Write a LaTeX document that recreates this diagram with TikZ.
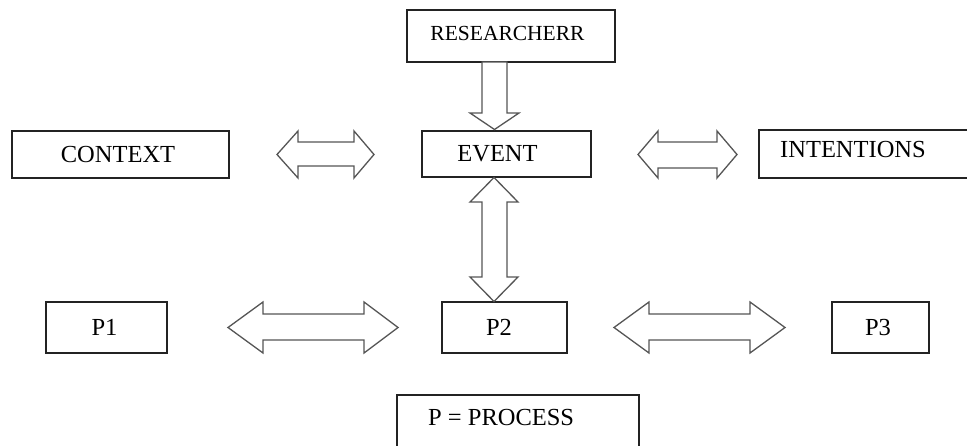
\documentclass[tikz,border=0pt]{standalone}
\usepackage{fontspec}
\setmainfont{Liberation Serif}
\definecolor{boxcol}{RGB}{35,35,35}
\definecolor{arrcol}{RGB}{85,85,85}
\begin{document}
\begin{tikzpicture}[x=1pt,y=-1pt,
  box/.style={draw=boxcol, line width=1.5pt, inner sep=0pt, fill=white},
  lbl/.style={inner sep=0pt, text=black, font=\fontsize{24.5}{28}\selectfont},
  smalllbl/.style={lbl, font=\fontsize{21.5}{25}\selectfont},
  blockarrow/.style={draw=arrcol, line width=1.3pt, fill=white, line join=miter}]
\useasboundingbox (0,0) rectangle (967,446);
\clip (0,0) rectangle (967,446);
\fill[white] (0,0) rectangle (967,446);

% boxes
\node[box, minimum width=208pt, minimum height=52pt] (researcher) at (511,36) {};
\node[box, minimum width=217pt, minimum height=47pt] (context) at (120.5,154.5) {};
\node[box, minimum width=169pt, minimum height=46pt] (event) at (506.5,154) {};
\node[box, minimum width=216pt, minimum height=48pt] (intentions) at (867,154) {};
\node[box, minimum width=121pt, minimum height=51pt] (p1) at (106.5,327.5) {};
\node[box, minimum width=125pt, minimum height=51pt] (p2) at (504.5,327.5) {};
\node[box, minimum width=97pt, minimum height=51pt] (p3) at (880.5,327.5) {};
\node[box, minimum width=242pt, minimum height=64pt] (process) at (518,427) {};

% labels
\node[smalllbl] (tresearcher) at (507.5,33.5) {RESEARCHERR};
\node[lbl] (tcontext) at (118,155) {CONTEXT};
\node[lbl] (tevent) at (497.5,154) {EVENT};
\node[lbl, anchor=west] (tintentions) at (780,150) {INTENTIONS};
\node[lbl] (tp1) at (104.5,327.5) {P1};
\node[lbl] (tp2) at (499,327.5) {P2};
\node[lbl] (tp3) at (878,327.5) {P3};
\node[lbl, anchor=west] (tprocess) at (428,418) {P = PROCESS};

% block arrows
% researcher -> event
\draw[blockarrow] (482,62) -- (507,62) -- (507,113) -- (519,113) -- (494.5,129.5)
  -- (470,113) -- (482,113) -- cycle;
% context <-> event
\draw[blockarrow] (277,154.5) -- (298,131) -- (298,142) -- (354,142) -- (354,131)
  -- (374,154.5) -- (354,178) -- (354,166) -- (298,166) -- (298,178) -- cycle;
% event <-> intentions
\draw[blockarrow] (638,154.5) -- (658,131) -- (658,142) -- (717,142) -- (717,131)
  -- (737,154.5) -- (717,178) -- (717,168) -- (658,168) -- (658,178) -- cycle;
% event <-> p2
\draw[blockarrow] (494,177.5) -- (518,202) -- (507,202) -- (507,277) -- (518,277)
  -- (494,301.5) -- (470,277) -- (482,277) -- (482,202) -- (470,202) -- cycle;
% p1 <-> p2
\draw[blockarrow] (228,327.5) -- (263,302) -- (263,314) -- (364,314) -- (364,302)
  -- (398,327.5) -- (364,353) -- (364,340) -- (263,340) -- (263,353) -- cycle;
% p2 <-> p3
\draw[blockarrow] (614,327.5) -- (649,302) -- (649,314) -- (750,314) -- (750,302)
  -- (785,327.5) -- (750,353) -- (750,340) -- (649,340) -- (649,353) -- cycle;
\end{tikzpicture}
\end{document}
